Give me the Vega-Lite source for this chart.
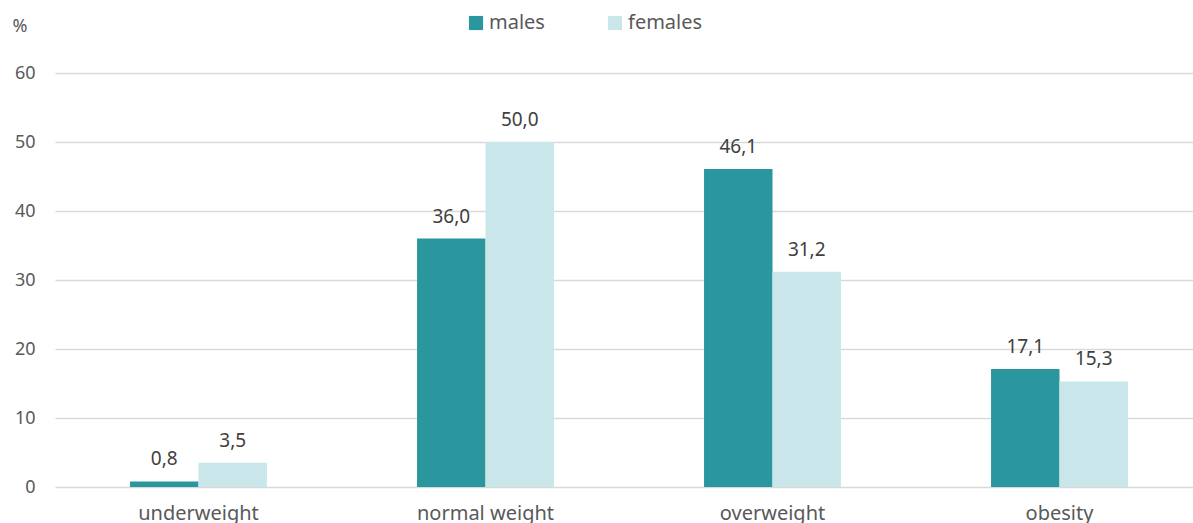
{
  "$schema": "https://vega.github.io/schema/vega-lite/v6.json",
  "autosize": "none",
  "width": 1148,
  "height": 414,
  "padding": {"left": 55, "top": 73, "right": 0, "bottom": 36},
  "background": "white",
  "data": {"values": [
    {"category": "underweight", "sex": "males", "value": 0.8},
    {"category": "underweight", "sex": "females", "value": 3.5},
    {"category": "normal weight", "sex": "males", "value": 36.0},
    {"category": "normal weight", "sex": "females", "value": 50.0},
    {"category": "overweight", "sex": "males", "value": 46.1},
    {"category": "overweight", "sex": "females", "value": 31.2},
    {"category": "obesity", "sex": "males", "value": 17.1},
    {"category": "obesity", "sex": "females", "value": 15.3}
  ]},
  "encoding": {
    "x": {"field": "category", "type": "nominal", "sort": null,
      "scale": {"paddingInner": 0.523, "paddingOuter": 0.2615},
      "axis": {"title": null, "labelAngle": 0, "labelFontSize": 20, "labelColor": "#595959", "labelPadding": 16, "ticks": false, "domain": false, "labelFont": "Noto Sans"}},
    "xOffset": {"field": "sex", "type": "nominal", "sort": ["males", "females"], "scale": {"paddingInner": 0, "paddingOuter": 0}},
    "y": {"field": "value", "type": "quantitative",
      "scale": {"domain": [0, 60]},
      "axis": {"title": "%", "titleAngle": 0, "titleX": -43, "titleY": -47, "titleAlign": "left", "titleBaseline": "middle", "titleFontSize": 18, "titleFontWeight": "normal", "titleColor": "#595959", "titleFont": "Noto Sans",
        "values": [0, 10, 20, 30, 40, 50, 60], "labelFontSize": 18, "labelColor": "#595959", "labelPadding": 20, "labelFont": "Noto Sans",
        "ticks": false, "domain": false, "grid": true, "gridColor": "#d9d9d9", "gridWidth": 1.5}}
  },
  "layer": [
    {"mark": {"type": "bar"},
      "encoding": {
        "color": {"field": "sex", "type": "nominal", "sort": ["males", "females"],
          "scale": {"domain": ["males", "females"], "range": ["#2a969e", "#c9e7ea"]},
          "legend": {"title": null, "orient": "none", "direction": "horizontal", "legendX": 411, "legendY": -60,
            "symbolType": "square", "symbolSize": 200, "symbolStrokeWidth": 0, "labelFontSize": 20, "labelColor": "#595959", "labelFont": "Noto Sans", "labelOffset": 3, "columnPadding": 60}}
      }},
    {"mark": {"type": "text", "baseline": "bottom", "dy": -12, "fontSize": 19, "color": "#404040", "font": "Noto Sans"},
      "encoding": {"text": {"field": "value", "type": "quantitative", "format": ".1f"}}}
  ],
  "config": {
    "view": {"stroke": null},
    "locale": {"number": {"decimal": ",", "thousands": ".", "grouping": [3], "currency": ["", " €"]}}
  }
}
